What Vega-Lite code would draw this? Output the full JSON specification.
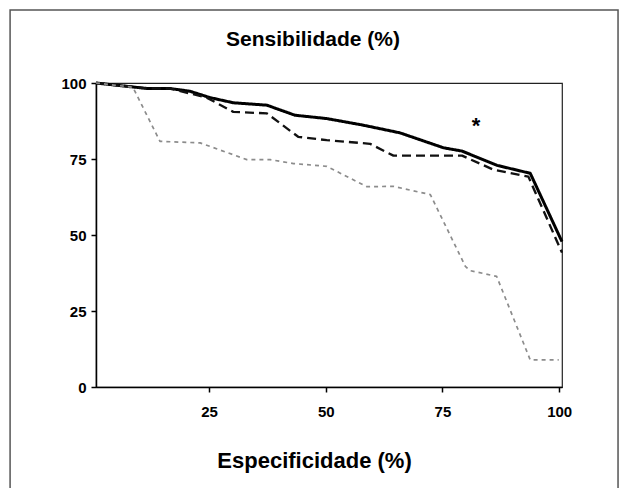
{
  "$schema": "https://vega.github.io/schema/vega-lite/v6.json",
  "autosize": "none",
  "width": 466,
  "height": 304,
  "padding": {"left": 96, "top": 83, "right": 61, "bottom": 101},
  "background": "white",
  "title": {"text": "Sensibilidade (%)", "fontSize": 21, "font": "Liberation Sans", "fontWeight": "bold", "color": "#000", "anchor": "middle", "offset": 26, "dx": -16, "dy": 67},
  "config": {
    "view": {"stroke": "#222", "strokeWidth": 1.2},
    "font": "Liberation Sans"
  },
  "datasets": {
    "curves": [
      {"serie": "A", "x": 0.8, "y": 100}, {"serie": "A", "x": 11.7, "y": 98.2}, {"serie": "A", "x": 16.6, "y": 98.2}, {"serie": "A", "x": 20.9, "y": 97.3}, {"serie": "A", "x": 25.2, "y": 95.2}, {"serie": "A", "x": 30.2, "y": 93.5}, {"serie": "A", "x": 37.4, "y": 92.7}, {"serie": "A", "x": 43.4, "y": 89.4}, {"serie": "A", "x": 50.2, "y": 88.3}, {"serie": "A", "x": 57.8, "y": 86.2}, {"serie": "A", "x": 65.9, "y": 83.6}, {"serie": "A", "x": 75.2, "y": 78.7}, {"serie": "A", "x": 79.2, "y": 77.6}, {"serie": "A", "x": 86.7, "y": 72.9}, {"serie": "A", "x": 93.8, "y": 70.3}, {"serie": "A", "x": 100.6, "y": 47.8},
      {"serie": "B", "x": 0.8, "y": 100}, {"serie": "B", "x": 11.7, "y": 98.2}, {"serie": "B", "x": 16.6, "y": 98.2}, {"serie": "B", "x": 24.5, "y": 95.2}, {"serie": "B", "x": 30.2, "y": 90.5}, {"serie": "B", "x": 37.4, "y": 90.0}, {"serie": "B", "x": 44.1, "y": 82.3}, {"serie": "B", "x": 50.2, "y": 81.2}, {"serie": "B", "x": 59.5, "y": 80.0}, {"serie": "B", "x": 64.5, "y": 76.1}, {"serie": "B", "x": 79.2, "y": 76.1}, {"serie": "B", "x": 85.9, "y": 71.5}, {"serie": "B", "x": 93.4, "y": 69.2}, {"serie": "B", "x": 100.6, "y": 44.2},
      {"serie": "C", "x": 0.8, "y": 100}, {"serie": "C", "x": 8.7, "y": 98.6}, {"serie": "C", "x": 14.5, "y": 80.8}, {"serie": "C", "x": 23.1, "y": 80.3}, {"serie": "C", "x": 33.1, "y": 74.8}, {"serie": "C", "x": 38.1, "y": 74.8}, {"serie": "C", "x": 43.1, "y": 73.5}, {"serie": "C", "x": 50.2, "y": 72.6}, {"serie": "C", "x": 58.8, "y": 65.9}, {"serie": "C", "x": 64.5, "y": 66.0}, {"serie": "C", "x": 72.4, "y": 63.3}, {"serie": "C", "x": 79.9, "y": 39.7}, {"serie": "C", "x": 80.9, "y": 38.3}, {"serie": "C", "x": 86.6, "y": 36.4}, {"serie": "C", "x": 93.8, "y": 8.9}, {"serie": "C", "x": 99.9, "y": 8.9}
    ],
    "marks": [{"x": 82.2, "y": 86.0, "label": "*"}],
    "frame": [{"name": "moldura"}]
  },
  "layer": [
    {
      "data": {"name": "frame"},
      "mark": {"type": "rect", "filled": false, "stroke": "#555", "strokeWidth": 1.5, "clip": false},
      "encoding": {
        "x": {"datum": -17.6, "type": "quantitative"},
        "x2": {"datum": 112.6},
        "y": {"datum": 124, "type": "quantitative"},
        "y2": {"datum": -36}
      }
    },
    {
      "data": {"name": "curves"},
      "mark": {"type": "line", "strokeJoin": "round"},
      "encoding": {
        "x": {
          "field": "x", "type": "quantitative",
          "scale": {"domain": [0.8, 100.6], "nice": false, "zero": false},
          "axis": {
            "title": "Especificidade (%)", "titleFontSize": 22, "titleFontWeight": "bold", "titleFont": "Liberation Sans", "titleColor": "#000",
            "titleX": 218, "titlePadding": 31,
            "values": [25, 50, 75, 100], "grid": false,
            "domainColor": "#000", "domainWidth": 1.5, "tickColor": "#000", "tickWidth": 1.5, "tickSize": 5,
            "labelFontSize": 15, "labelFontWeight": "bold", "labelColor": "#000", "labelPadding": 12, "labelFlush": false
          }
        },
        "y": {
          "field": "y", "type": "quantitative",
          "scale": {"domain": [0, 100], "nice": false},
          "axis": {
            "title": null, "values": [0, 25, 50, 75, 100], "grid": false,
            "domainColor": "#000", "domainWidth": 1.5, "tickColor": "#000", "tickWidth": 1.5, "tickSize": 5,
            "labelFontSize": 15, "labelFontWeight": "bold", "labelColor": "#000", "labelPadding": 5
          }
        },
        "color": {"field": "serie", "type": "nominal", "scale": {"domain": ["A", "B", "C"], "range": ["#000000", "#111111", "#8c8c8c"]}, "legend": null},
        "strokeDash": {"field": "serie", "type": "nominal", "scale": {"domain": ["A", "B", "C"], "range": [[1, 0], [9, 5], [4, 4]]}, "legend": null},
        "strokeWidth": {"field": "serie", "type": "nominal", "scale": {"domain": ["A", "B", "C"], "range": [3, 1.7, 1.2]}, "legend": null},
        "order": {"field": "x", "type": "quantitative"}
      }
    },
    {
      "data": {"name": "marks"},
      "mark": {"type": "text", "fontSize": 22, "fontWeight": "bold", "font": "Liberation Sans", "color": "#000", "baseline": "middle", "align": "center"},
      "encoding": {
        "x": {"field": "x", "type": "quantitative"},
        "y": {"field": "y", "type": "quantitative"},
        "text": {"field": "label"}
      }
    }
  ]
}
